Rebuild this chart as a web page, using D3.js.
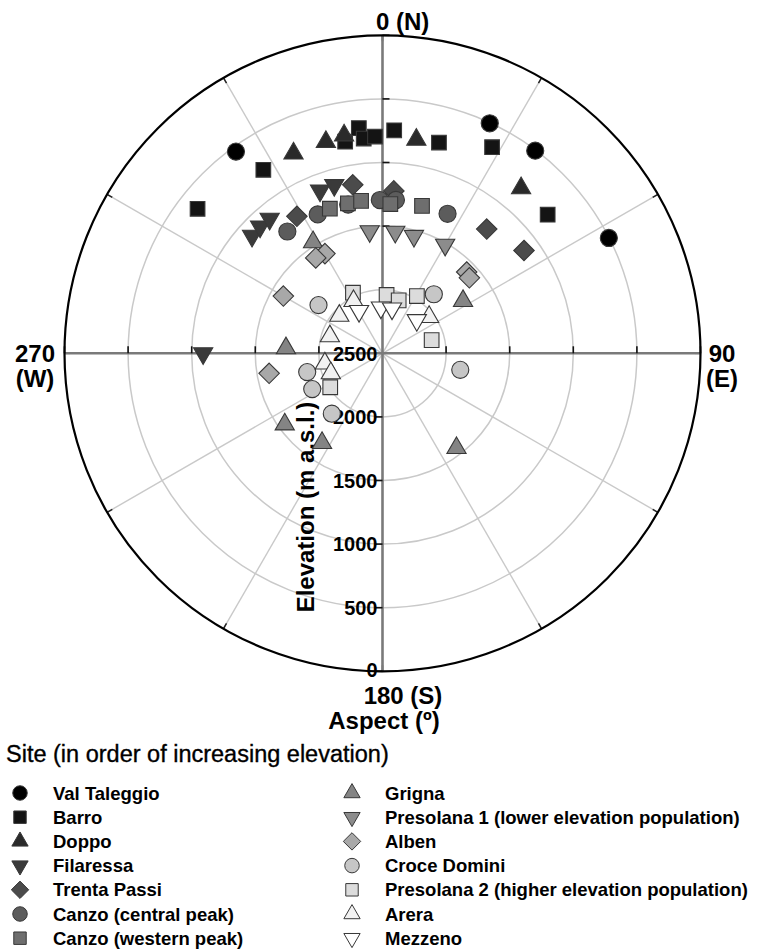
<!DOCTYPE html>
<html>
<head>
<meta charset="utf-8">
<script src="https://cdn.jsdelivr.net/npm/d3@7"></script>
<style>
  body { margin: 0; background: #fff; }
  svg { display: block; }
  text { font-family: "Liberation Sans", Arial, Helvetica, sans-serif; fill: #000; }
</style>
</head>
<body>
<svg id="chart" width="775" height="951"></svg>
<script>
// Sites, listed in order of increasing elevation
const siteNames = [
  "Val Taleggio", "Barro", "Doppo", "Filaressa", "Trenta Passi",
  "Canzo (central peak)", "Canzo (western peak)", "Grigna",
  "Presolana 1 (lower elevation population)", "Alben", "Croce Domini",
  "Presolana 2 (higher elevation population)", "Arera", "Mezzeno"
];
const siteShapes = [
  "circle", "square", "triangle", "triangleDown", "diamond", "circle", "square",
  "triangle", "triangleDown", "diamond", "circle", "square", "triangle", "triangleDown"
];
const siteFills = [
  "#000000", "#141414", "#2a2a2a", "#3a3a3a", "#4b4b4b", "#5c5c5c", "#6e6e6e",
  "#848484", "#8c8c8c", "#a8a8a8", "#c6c6c6", "#dcdcdc", "#f2f2f2", "#ffffff"
];

// Observations per site: [aspect (degrees from north), elevation (m a.s.l.)]
const valTaleggio  = [[324, 540], [25, 505], [37, 505], [63, 503]];
const barro        = [[308, 655], [327, 780], [350, 810], [354, 720], [355, 805], [358, 795], [3, 745], [15, 785], [28, 665], [50, 805]];
const doppo        = [[336, 780], [345, 780], [350, 760], [9, 800], [40, 805]];
const filaressa    = [[270, 1090], [312, 1120], [316, 1115], [320, 1120], [339, 1130], [344, 1125]];
const trentaPassi  = [[350, 1155], [328, 1230], [4, 1220], [40, 1225], [54, 1125]];
const canzoCentral = [[322, 1285], [335, 1295], [347, 1300], [359, 1295], [5, 1290], [25, 1290]];
const canzoWestern = [[340, 1290], [347, 1290], [352, 1290], [3, 1325], [15, 1300]];
const grigna       = [[328, 1470], [273, 1740], [57, 1745], [234, 1550], [214, 1650], [142, 1555]];
const presolana1   = [[354, 1535], [6, 1540], [15, 1545], [30, 1515]];
const alben        = [[330, 1595], [325, 1585], [300, 1600], [46, 1580], [49, 1595], [260, 1595]];
const croceDomini  = [[307, 1870], [41, 1885], [102, 1875], [256, 1890], [243, 1880], [220, 1880]];
const presolana2   = [[334, 1970], [4, 2040], [17, 2065], [31, 1975], [75, 2100], [237, 2010]];
const arera        = [[331, 2030], [311, 2050], [288, 2065], [52, 2035], [260, 2040], [249, 2065]];
const mezzeno      = [[331, 2120], [358, 2140], [12, 2140], [46, 2125]];

const siteData = [valTaleggio, barro, doppo, filaressa, trentaPassi, canzoCentral, canzoWestern,
                  grigna, presolana1, alben, croceDomini, presolana2, arera, mezzeno];

// Axis ticks
const elevationTicks = [0, 500, 1000, 1500, 2000, 2500];
const aspectTicks = [0, 30, 60, 90, 120, 150, 180, 210, 240, 270, 300, 330];
const aspectLabels = [
  { aspect: 0,   lines: ["0 (N)"] },
  { aspect: 90,  lines: ["90", "(E)"] },
  { aspect: 180, lines: ["180 (S)"] },
  { aspect: 270, lines: ["270", "(W)"] }
];

const svg = d3.select("#chart");
const cx = 382.5, cy = 353.3, R = 318;

// Elevation runs from 2500 m at the centre to 0 m at the rim
const rScale = d3.scaleLinear().domain([2500, 0]).range([0, R]);
const aScale = d3.scaleLinear().domain([0, 360]).range([0, 2 * Math.PI]);
const px = (aspect, elev) => cx + rScale(elev) * Math.sin(aScale(aspect));
const py = (aspect, elev) => cy - rScale(elev) * Math.cos(aScale(aspect));

// Symbol generators
const diamond = {
  draw(ctx, size) {
    const s = Math.sqrt(size / 2);
    ctx.moveTo(0, -s); ctx.lineTo(s, 0); ctx.lineTo(0, s); ctx.lineTo(-s, 0); ctx.closePath();
  }
};
const symbolTypes = {
  circle: d3.symbolCircle, square: d3.symbolSquare, triangle: d3.symbolTriangle,
  triangleDown: d3.symbolTriangle, diamond: diamond
};
const symbolSizes = { circle: 230, square: 215, triangle: 160, triangleDown: 160, diamond: 210 };
function symbolPath(shape, scale) {
  return d3.symbol().type(symbolTypes[shape]).size(symbolSizes[shape] * scale)();
}

const grid = svg.append("g");

// Elevation rings
grid.selectAll("circle.ring")
  .data(elevationTicks.filter(d => d > 0 && d < 2500))
  .join("circle")
  .attr("cx", cx).attr("cy", cy)
  .attr("r", d => rScale(d))
  .attr("fill", "none").attr("stroke", "#c9c9c9").attr("stroke-width", 1.5);

// Aspect spokes
grid.selectAll("line.spoke")
  .data(aspectTicks.filter(d => d % 90 !== 0))
  .join("line")
  .attr("x1", cx).attr("y1", cy)
  .attr("x2", d => px(d, 0)).attr("y2", d => py(d, 0))
  .attr("stroke", "#c9c9c9").attr("stroke-width", 1.4);

// Short ticks at the rim for every aspect tick
grid.selectAll("line.rimtick")
  .data(aspectTicks)
  .join("line")
  .attr("x1", d => cx + (R - 6) * Math.sin(aScale(d)))
  .attr("y1", d => cy - (R - 6) * Math.cos(aScale(d)))
  .attr("x2", d => px(d, 0)).attr("y2", d => py(d, 0))
  .attr("stroke", "#222").attr("stroke-width", 1.5);

// Main axes (N-S and W-E)
grid.selectAll("line.axis")
  .data([0, 90, 180, 270])
  .join("line")
  .attr("x1", cx).attr("y1", cy)
  .attr("x2", d => px(d, 0)).attr("y2", d => py(d, 0))
  .attr("stroke", "#7a7a7a").attr("stroke-width", 2.6);

// Elevation ticks on the main axes
const tickDirs = { 0: [1, 0], 90: [0, -1], 180: [-1, 0], 270: [0, -1] };
[0, 90, 180, 270].forEach(a => {
  grid.selectAll(null)
    .data(elevationTicks.filter(d => d < 2500))
    .join("line")
    .attr("x1", d => px(a, d)).attr("y1", d => py(a, d))
    .attr("x2", d => px(a, d) + tickDirs[a][0] * 7)
    .attr("y2", d => py(a, d) + tickDirs[a][1] * 7)
    .attr("stroke", "#111").attr("stroke-width", 1.6);
});

// Outer rim
grid.append("circle")
  .attr("cx", cx).attr("cy", cy).attr("r", rScale(0))
  .attr("fill", "none").attr("stroke", "#000").attr("stroke-width", 2.2);

// Elevation tick labels along the southern axis
svg.append("g").selectAll("text")
  .data(elevationTicks)
  .join("text")
  .attr("x", cx - 5)
  .attr("y", d => py(180, d))
  .attr("dy", d => d === 0 ? "0.28em" : "0.36em")
  .attr("text-anchor", "end")
  .attr("font-size", 20).attr("font-weight", "bold")
  .text(d => d);

// Aspect labels
const aspectLabelPos = {
  0:   { x: 376, y: 30, anchor: "start" },
  90:  { x: 722, y: 362, anchor: "middle" },
  180: { x: 403, y: 704, anchor: "middle" },
  270: { x: 35,  y: 362, anchor: "middle" }
};
const labG = svg.append("g").attr("font-size", 24).attr("font-weight", "bold");
aspectLabels.forEach(l => {
  const p = aspectLabelPos[l.aspect];
  const t = labG.append("text").attr("x", p.x).attr("y", p.y).attr("text-anchor", p.anchor);
  l.lines.forEach((s, i) => t.append("tspan").attr("x", p.x).attr("dy", i === 0 ? 0 : "1.05em").text(s));
});

// Axis titles
svg.append("text")
  .attr("x", 384).attr("y", 729)
  .attr("text-anchor", "middle")
  .attr("font-size", 24).attr("font-weight", "bold")
  .text("Aspect (º)");
svg.append("text")
  .attr("transform", "translate(314,507) rotate(-90)")
  .attr("text-anchor", "middle")
  .attr("font-size", 24).attr("font-weight", "bold")
  .text("Elevation (m a.s.l.)");

// Data points, drawn in site order
const pts = svg.append("g");
siteData.forEach((rows, i) => {
  const shape = siteShapes[i];
  pts.selectAll(null)
    .data(rows)
    .join("path")
    .attr("d", symbolPath(shape, 1))
    .attr("transform", d => `translate(${px(d[0], d[1])},${py(d[0], d[1])})` + (shape === "triangleDown" ? " rotate(180)" : ""))
    .attr("fill", siteFills[i])
    .attr("stroke", "#383838").attr("stroke-width", 1.1);
});

// Legend
svg.append("text")
  .attr("x", 6).attr("y", 762)
  .attr("font-size", 23.5)
  .attr("stroke", "#000").attr("stroke-width", 0.35)
  .text("Site (in order of increasing elevation)");

const legendRows = 7, rowH = 24.2, legY = 793;
const legend = svg.append("g");
siteNames.forEach((name, i) => {
  const col = Math.floor(i / legendRows), row = i % legendRows;
  const sx = col === 0 ? 20 : 352, tx = col === 0 ? 53 : 385;
  const y = legY + row * rowH;
  const shape = siteShapes[i];
  legend.append("path")
    .attr("d", symbolPath(shape, 0.72))
    .attr("transform", `translate(${sx},${y})` + (shape === "triangleDown" ? " rotate(180)" : ""))
    .attr("fill", siteFills[i])
    .attr("stroke", "#383838").attr("stroke-width", 1);
  legend.append("text")
    .attr("x", tx).attr("y", y).attr("dy", "0.36em")
    .attr("font-size", 18.5).attr("font-weight", "bold")
    .text(name);
});
</script>
</body>
</html>
